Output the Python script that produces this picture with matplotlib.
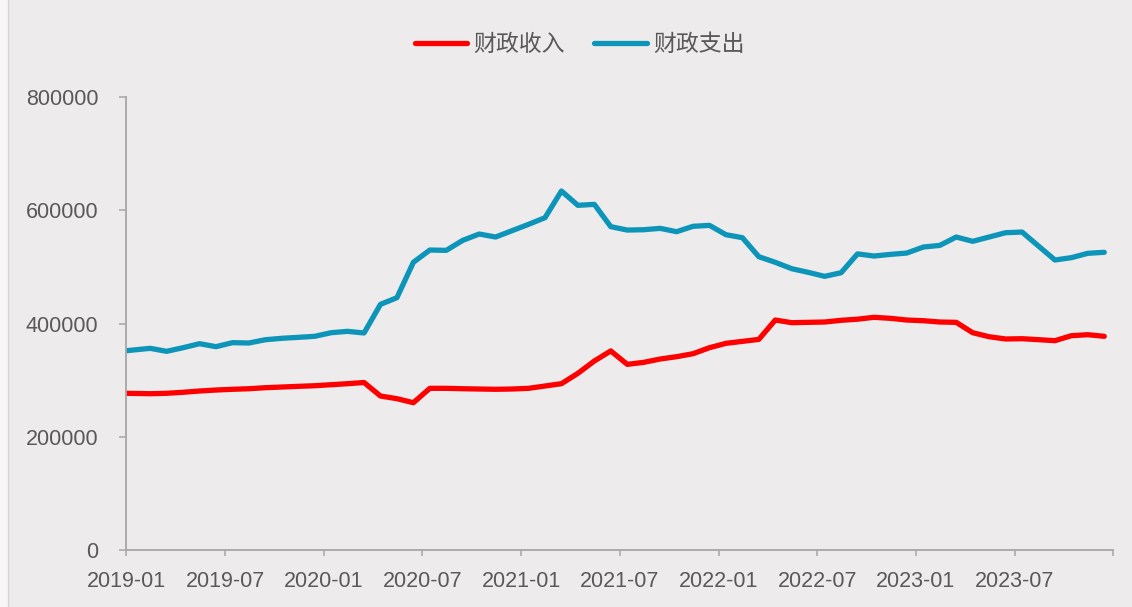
import matplotlib
matplotlib.use("Agg")
import matplotlib.pyplot as plt
from matplotlib.patches import Rectangle
import numpy as np
import pandas as pd

plt.rcParams['font.family'] = ['Liberation Sans', 'Noto Sans CJK SC', 'DejaVu Sans']

# monthly data, 2019-01 .. 2023-12
months = [p.strftime('%Y-%m') for p in pd.period_range('2019-01', '2023-12', freq='M')]

revenue = [276900, 276200, 276900, 278700, 281000, 282700, 284000, 285000, 286800, 288000,
           289200, 290300, 292100, 293900, 296000, 272100, 267400, 260300, 285700, 285700,
           285000, 284500, 284000, 284500, 285700, 289800, 293900, 312200, 334000, 351800,
           328100, 331600, 337500, 341600, 346900, 357500, 365200, 368700, 372200, 406400,
           401700, 402300, 402900, 405900, 407900, 411200, 409400, 406400, 405200, 402900,
           402300, 384000, 376900, 372900, 373400, 371700, 369900, 378700, 380500, 377600]

expenditure = [352200, 356400, 351100, 357500, 364600, 359300, 366400, 365800, 371600, 374100,
               375800, 377600, 384000, 386400, 383500, 434100, 445900, 508400, 530100, 529500,
               547200, 558400, 553100, 564300, 575500, 587200, 634400, 609100, 610800, 571400,
               565400, 566000, 568400, 562500, 572000, 573700, 557200, 551900, 518300, 508400,
               497100, 490700, 483600, 490000, 523300, 519500, 522400, 524800, 535400, 538300,
               553100, 545500, 553100, 560700, 561900, 537200, 512500, 516600, 524300, 526100]

series_names = ['财政收入', '财政支出']
tick_labels = months[::6]

bg = '#EDEBEC'
axis_col = '#A6A6A6'
text_col = '#595959'

fig = plt.figure(figsize=(11.32, 6.07), dpi=100)
fig.patch.set_facecolor('#F7F7F7')
fig.patches.append(Rectangle((8 / 1132, -0.01), 1.02, 1.02, transform=fig.transFigure,
                             facecolor=bg, edgecolor='#D4D4D4', linewidth=1.0, zorder=-10))

ax = fig.add_axes([0.1116, 0.0939, 0.8719, 0.7458])
ax.set_facecolor('none')

# points sit mid-month on the date axis, first one on the axis itself
x = np.arange(len(months)) + 0.45
x[0] = 0

ax.plot(x, revenue, color='#FF0000', lw=3.8, solid_capstyle='round',
        solid_joinstyle='round', label=series_names[0])
ax.plot(x, expenditure, color='#0C95B9', lw=3.8, solid_capstyle='round',
        solid_joinstyle='round', label=series_names[1])

ax.set_xlim(0, 60)
ax.set_ylim(0, 800000)
ax.set_xticks(np.arange(0, 61, 6))
ax.set_xticklabels(tick_labels + [''])
ax.set_yticks(np.arange(0, 800001, 200000))
ax.set_yticklabels([f'{int(v)}' for v in np.arange(0, 800001, 200000)])

for s in ['top', 'right']:
    ax.spines[s].set_visible(False)
for s in ['left', 'bottom']:
    ax.spines[s].set_color(axis_col)
    ax.spines[s].set_linewidth(1.3)

ax.tick_params(axis='x', direction='out', length=4.5, width=1.1, color=axis_col,
               labelcolor=text_col, labelsize=15.5, pad=10.5)
ax.tick_params(axis='y', direction='out', length=5, width=1.1, color=axis_col,
               labelcolor=text_col, labelsize=15.5, pad=15)

fig.legend(loc='center', bbox_to_anchor=(0.512, 0.926), ncol=2, frameon=False,
           prop={'family': ['Noto Sans CJK SC'], 'size': 16.5}, labelcolor=text_col,
           handlelength=2.3, handletextpad=0.25, columnspacing=1.3)

fig.savefig('out.png', dpi=100, facecolor=fig.get_facecolor())
